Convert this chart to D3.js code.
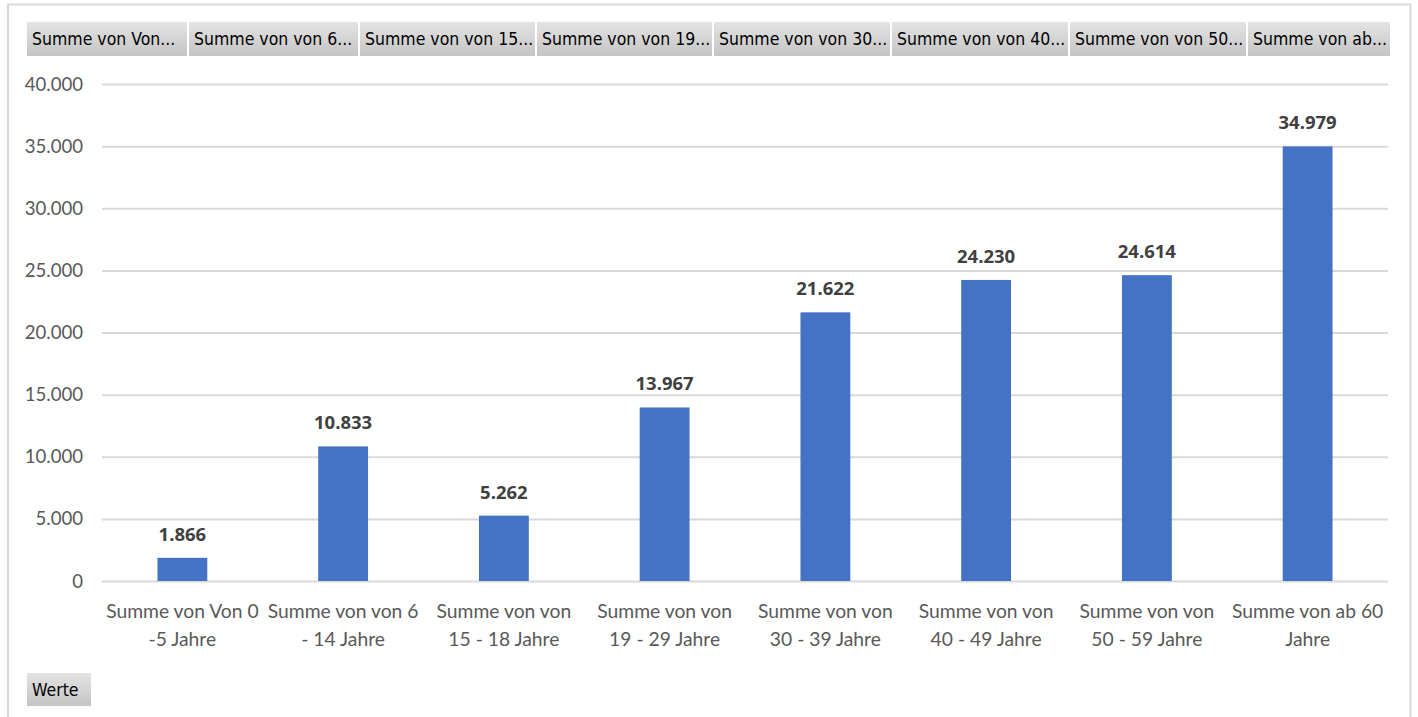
<!DOCTYPE html>
<html><head><meta charset="utf-8">
<script src="https://cdn.jsdelivr.net/npm/d3@7"></script>
<style>
html,body{margin:0;padding:0;background:#fff;}
svg{display:block;}
</style></head>
<body>
<svg id="c" width="1418" height="717"></svg>
<script>
const categories = [
  ["Summe von Von 0", "-5 Jahre"],
  ["Summe von von 6", "- 14 Jahre"],
  ["Summe von von", "15 - 18 Jahre"],
  ["Summe von von", "19 - 29 Jahre"],
  ["Summe von von", "30 - 39 Jahre"],
  ["Summe von von", "40 - 49 Jahre"],
  ["Summe von von", "50 - 59 Jahre"],
  ["Summe von ab 60", "Jahre"]
];
const values = [1866, 10833, 5262, 13967, 21622, 24230, 24614, 34979];
const yTicks = [0, 5000, 10000, 15000, 20000, 25000, 30000, 35000, 40000];
const fieldButtons = ["Summe von Von...", "Summe von von 6...", "Summe von von 15...", "Summe von von 19...",
  "Summe von von 30...", "Summe von von 40...", "Summe von von 50...", "Summe von ab..."];
const fieldButtonWidths = [160, 169, 175, 175, 176, 176, 176, 142];

const svg = d3.select("#c");
const fmt = v => d3.format(",")(v).replace(/,/g, ".");

// outer frame
svg.append("path").attr("d", "M8,717 V4.5 H1410.5 V717").attr("fill", "none")
  .attr("stroke", "#d9d9d9").attr("stroke-width", 2);

const defs = svg.append("defs");
const grad = defs.append("linearGradient").attr("id", "btn").attr("x1", 0).attr("y1", 0).attr("x2", 0).attr("y2", 1);
grad.append("stop").attr("offset", "0%").attr("stop-color", "#e4e4e4");
grad.append("stop").attr("offset", "100%").attr("stop-color", "#c4c4c4");

// field buttons
let bx = 27;
fieldButtons.forEach((t, i) => {
  const w = fieldButtonWidths[i];
  svg.append("rect").attr("x", bx).attr("y", 22).attr("width", w).attr("height", 34).attr("fill", "url(#btn)");
  svg.append("text").attr("x", bx + 5).attr("y", 45).text(t)
    .attr("font-family", "'DejaVu Sans Condensed', 'DejaVu Sans'").attr("font-size", 17.5)
    .attr("textLength", null)
    .attr("fill", "#000");
  bx += w + 2;
});

const x = d3.scaleBand().domain(d3.range(categories.length)).range([102, 1388]).paddingInner(0.69).paddingOuter(0.345);
const y = d3.scaleLinear().domain([0, 40000]).range([581, 84]);

// gridlines
svg.append("g").selectAll("line").data(yTicks).join("line")
  .attr("x1", 102).attr("x2", 1388).attr("y1", d => y(d) + 0.5).attr("y2", d => y(d) + 0.5)
  .attr("stroke", "#d9d9d9").attr("stroke-width", 2);

// y axis labels
svg.append("g").selectAll("text").data(yTicks).join("text")
  .attr("x", 83).attr("y", d => y(d) + 6.5).attr("text-anchor", "end")
  .attr("font-family", "Lato, 'Open Sans', sans-serif").attr("font-size", 18.6).attr("fill", "#595959")
  .text(d => fmt(d));

// bars
svg.append("g").selectAll("rect").data(values).join("rect")
  .attr("x", (d, i) => x(i)).attr("width", x.bandwidth())
  .attr("y", d => y(d)).attr("height", d => y(0) - y(d)).attr("fill", "#4472C4");

// data labels
svg.append("g").selectAll("text").data(values).join("text")
  .attr("x", (d, i) => x(i) + x.bandwidth() / 2).attr("y", d => y(d) - 17)
  .attr("text-anchor", "middle").attr("font-family", "'Open Sans', Lato, sans-serif")
  .attr("font-weight", "bold").attr("font-size", 18.5).attr("fill", "#404040")
  .text(d => fmt(d));

// x labels
const xl = svg.append("g").selectAll("text").data(categories).join("text")
  .attr("text-anchor", "middle").attr("font-family", "Lato, 'Open Sans', sans-serif")
  .attr("font-size", 19.3).attr("fill", "#595959");
xl.each(function(d, i) {
  const t = d3.select(this);
  d.forEach((line, j) => {
    t.append("tspan").attr("x", x(i) + x.bandwidth() / 2).attr("y", 618 + j * 28).text(line);
  });
});

// Werte button
svg.append("rect").attr("x", 27).attr("y", 673).attr("width", 64).attr("height", 33).attr("fill", "url(#btn)");
svg.append("text").attr("x", 32).attr("y", 696).text("Werte")
  .attr("font-family", "'DejaVu Sans Condensed', 'DejaVu Sans'").attr("font-size", 17.5).attr("fill", "#000");
</script>
</body></html>
